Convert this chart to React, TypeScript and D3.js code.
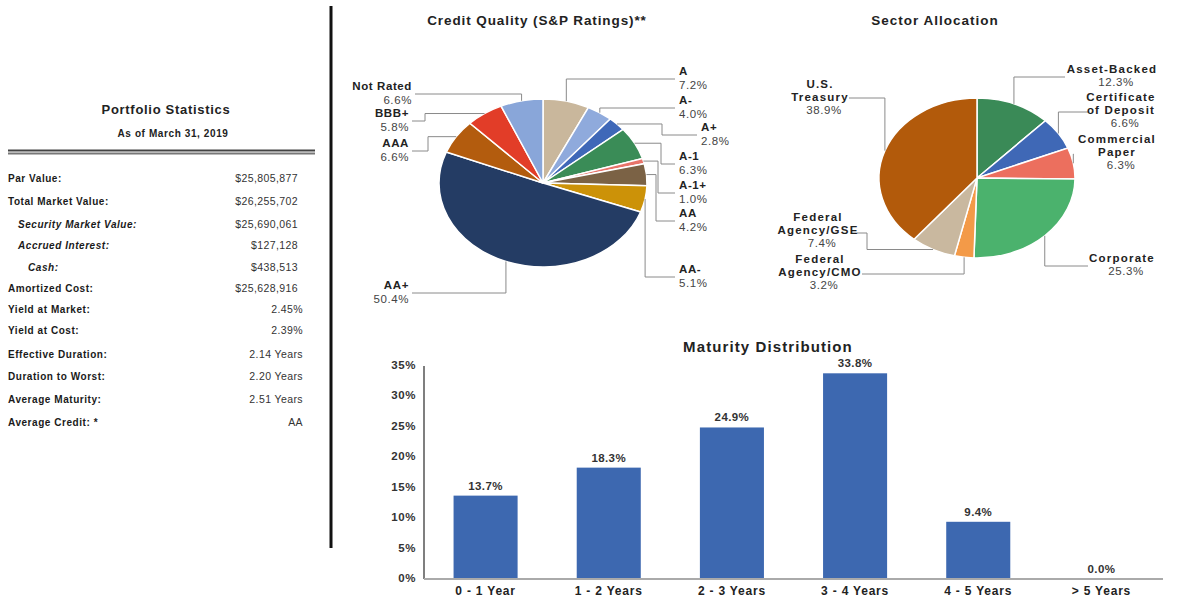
import React from "react";
import * as d3 from "d3";

// ---------- DATA ----------
const statLabels = [
  "Par Value:",
  "Total Market Value:",
  "Security Market Value:",
  "Accrued Interest:",
  "Cash:",
  "Amortized Cost:",
  "Yield at Market:",
  "Yield at Cost:",
  "Effective Duration:",
  "Duration to Worst:",
  "Average Maturity:",
  "Average Credit: *",
];
const statValues = [
  "$25,805,877",
  "$26,255,702",
  "$25,690,061",
  "$127,128",
  "$438,513",
  "$25,628,916",
  "2.45%",
  "2.39%",
  "2.14 Years",
  "2.20 Years",
  "2.51 Years",
  "AA",
];

const creditCategories = ["A", "A-", "A+", "A-1", "A-1+", "AA", "AA-", "AA+", "AAA", "BBB+", "Not Rated"];
const creditValues = [7.2, 4.0, 2.8, 6.3, 1.0, 4.2, 5.1, 50.4, 6.6, 5.8, 6.6];

const sectorCategories = [
  "Asset-Backed",
  "Certificate of Deposit",
  "Commercial Paper",
  "Corporate",
  "Federal Agency/CMO",
  "Federal Agency/GSE",
  "U.S. Treasury",
];
const sectorValues = [12.3, 6.6, 6.3, 25.3, 3.2, 7.4, 38.9];
const sectorLabelLines = [
  ["Asset-Backed"],
  ["Certificate", "of Deposit"],
  ["Commercial", "Paper"],
  ["Corporate"],
  ["Federal", "Agency/CMO"],
  ["Federal", "Agency/GSE"],
  ["U.S.", "Treasury"],
];

const maturityCategories = ["0 - 1 Year", "1 - 2 Years", "2 - 3 Years", "3 - 4 Years", "4 - 5 Years", "> 5 Years"];
const maturityValues = [13.7, 18.3, 24.9, 33.8, 9.4, 0.0];
const maturityTicks = [0, 5, 10, 15, 20, 25, 30, 35];

// ---------- STYLE / LAYOUT ----------
const FONT = "'Liberation Sans', Arial, Helvetica, sans-serif";

const creditColors = [
  "#c9b79c", "#8faadc", "#3f68b8", "#3a8c57", "#e8746a", "#7b6245",
  "#cc9208", "#243c64", "#b35c0e", "#e23d28", "#89a6d9",
];
const sectorColors = ["#3a8a57", "#3f68b6", "#ec6f5e", "#4bb26d", "#f39a48", "#c9b89f", "#b25a0b"];

type LabelLayout = { side: "l" | "r"; tx: number; ly: number; mode: "v" | "h"; elbow?: number };
const creditLayout: LabelLayout[] = [
  { side: "r", tx: 679, ly: 79, mode: "v" },
  { side: "r", tx: 679, ly: 108, mode: "v" },
  { side: "r", tx: 701, ly: 135, mode: "h", elbow: 662 },
  { side: "r", tx: 679, ly: 164, mode: "h", elbow: 661 },
  { side: "r", tx: 679, ly: 193, mode: "h", elbow: 658 },
  { side: "r", tx: 679, ly: 221, mode: "h", elbow: 656 },
  { side: "r", tx: 679, ly: 277, mode: "v" },
  { side: "l", tx: 409, ly: 293, mode: "v" },
  { side: "l", tx: 409, ly: 151, mode: "h", elbow: 428 },
  { side: "l", tx: 409, ly: 121, mode: "h", elbow: 425 },
  { side: "l", tx: 412, ly: 94, mode: "v" },
];

type SectorLayout = { cx: number; ty: number; sx: number; sy: number; mode: "v" | "h"; elbow?: number };
const sectorLayout: SectorLayout[] = [
  { cx: 1112, ty: 70, sx: 1065, sy: 77, mode: "v" },
  { cx: 1121, ty: 98, sx: 1089, sy: 112, mode: "v" },
  { cx: 1117, ty: 140, sx: 1073, sy: 154, mode: "v" },
  { cx: 1122, ty: 259, sx: 1088, sy: 266, mode: "v" },
  { cx: 820, ty: 260, sx: 862, sy: 274, mode: "v" },
  { cx: 818, ty: 218, sx: 857, sy: 233, mode: "h", elbow: 867 },
  { cx: 820, ty: 85, sx: 849, sy: 98, mode: "v" },
];

const pct = (v: number) => d3.format(".1f")(v) + "%";

function EllipsePie(props: {
  values: number[];
  colors: string[];
  cx: number;
  cy: number;
  rx: number;
  ry: number;
}) {
  const { values, colors, cx, cy, rx, ry } = props;
  const arcs = d3.pie<number>().sort(null).value((d) => d)(values);
  const arc = d3.arc<d3.PieArcDatum<number>>().innerRadius(0).outerRadius(rx);
  return (
    <g transform={`translate(${cx},${cy}) scale(1,${ry / rx})`}>
      {arcs.map((a, i) => (
        <path
          key={i}
          d={arc(a) || ""}
          fill={colors[i]}
          stroke="#ffffff"
          strokeWidth={1.5}
          vectorEffect="non-scaling-stroke"
        />
      ))}
    </g>
  );
}

function edgePoint(values: number[], i: number, cx: number, cy: number, rx: number, ry: number) {
  const arcs = d3.pie<number>().sort(null).value((d) => d)(values);
  const a = (arcs[i].startAngle + arcs[i].endAngle) / 2;
  return [cx + rx * Math.sin(a), cy - ry * Math.cos(a)];
}

export default function App() {
  const cP = { cx: 543, cy: 183, rx: 104, ry: 84 };
  const sP = { cx: 977, cy: 178, rx: 98, ry: 80 };

  const x = d3
    .scaleBand<string>()
    .domain(maturityCategories)
    .range([424, 1163])
    .paddingInner(0.48)
    .paddingOuter(0.24);
  const y = d3.scaleLinear().domain([0, 35]).range([579, 366]);

  const statY = [179, 202, 225, 246, 268, 289, 310, 331, 355, 377, 400, 423];
  const statX = [8, 8, 18, 18, 28, 8, 8, 8, 8, 8, 8, 8];
  const italic = [false, false, true, true, true, false, false, false, false, false, false, false];

  return (
    <svg
      width={1196}
      height={608}
      style={{ position: "absolute", left: 0, top: 0, background: "#fff" }}
      fontFamily={FONT}
    >
      <rect width={1196} height={608} fill="#fff" />

      {/* ---------- Left: Portfolio Statistics ---------- */}
      <text x={166} y={111} textAnchor="middle" dominantBaseline="middle" fontSize={13} fontWeight="bold" letterSpacing={0.7} fill="#222">
        Portfolio Statistics
      </text>
      <text x={173} y={134} textAnchor="middle" dominantBaseline="middle" fontSize={10} fontWeight="bold" letterSpacing={0.6} fill="#222">
        As of March 31, 2019
      </text>
      <line x1={8} x2={315} y1={150.5} y2={150.5} stroke="#444" strokeWidth={2} />
      <line x1={8} x2={315} y1={153.5} y2={153.5} stroke="#777" strokeWidth={2} />
      {statLabels.map((l, i) => (
        <g key={l}>
          <text
            x={statX[i]}
            y={statY[i]}
            dominantBaseline="middle"
            fontSize={10}
            fontWeight="bold"
            fontStyle={italic[i] ? "italic" : "normal"}
            letterSpacing={0.55}
            fill="#1a1a1a"
          >
            {l}
          </text>
          <text x={i < 6 ? 298 : 303} y={statY[i]} textAnchor="end" dominantBaseline="middle" fontSize={10.5} letterSpacing={0.4} fill="#333">
            {statValues[i]}
          </text>
        </g>
      ))}

      {/* Divider */}
      <line x1={331} x2={331} y1={6} y2={548} stroke="#111" strokeWidth={3} />

      {/* ---------- Credit Quality pie ---------- */}
      <text x={537} y={21} textAnchor="middle" dominantBaseline="middle" fontSize={13.5} fontWeight="bold" letterSpacing={0.9} fill="#222">
        Credit Quality (S&amp;P Ratings)**
      </text>
      <EllipsePie values={creditValues} colors={creditColors} {...cP} />
      {creditCategories.map((c, i) => {
        const L = creditLayout[i];
        const [ax, ay] = edgePoint(creditValues, i, cP.cx, cP.cy, cP.rx, cP.ry);
        const sx = L.side === "r" ? L.tx - 4 : L.tx + 3;
        const pts =
          L.mode === "v"
            ? [[sx, L.ly], [ax, L.ly], [ax, ay]]
            : [[sx, L.ly], [L.elbow!, L.ly], [L.elbow!, ay], [ax, ay]];
        const anchor = L.side === "r" ? "start" : "end";
        return (
          <g key={c}>
            <polyline points={pts.map((p) => p.join(",")).join(" ")} fill="none" stroke="#8a8a8a" strokeWidth={1} />
            <text x={L.tx} y={L.ly - 7} textAnchor={anchor} dominantBaseline="middle" fontSize={11.5} fontWeight="bold" letterSpacing={0.6} fill="#222">
              {c}
            </text>
            <text x={L.tx} y={L.ly + 6.5} textAnchor={anchor} dominantBaseline="middle" fontSize={11.5} letterSpacing={0.6} fill="#444">
              {pct(creditValues[i])}
            </text>
          </g>
        );
      })}

      {/* ---------- Sector Allocation pie ---------- */}
      <text x={935} y={21} textAnchor="middle" dominantBaseline="middle" fontSize={13.5} fontWeight="bold" letterSpacing={1} fill="#222">
        Sector Allocation
      </text>
      <EllipsePie values={sectorValues} colors={sectorColors} {...sP} />
      {sectorCategories.map((c, i) => {
        const L = sectorLayout[i];
        const [ax, ay] = edgePoint(sectorValues, i, sP.cx, sP.cy, sP.rx, sP.ry);
        const pts =
          L.mode === "v"
            ? [[L.sx, L.sy], [ax, L.sy], [ax, ay]]
            : [[L.sx, L.sy], [L.elbow!, L.sy], [L.elbow!, ay], [ax, ay]];
        const lines = sectorLabelLines[i];
        return (
          <g key={c}>
            <polyline points={pts.map((p) => p.join(",")).join(" ")} fill="none" stroke="#8a8a8a" strokeWidth={1} />
            {lines.map((t, j) => (
              <text
                key={j}
                x={L.cx}
                y={L.ty + j * 13}
                textAnchor="middle"
                dominantBaseline="middle"
                fontSize={11.5}
                fontWeight="bold"
                letterSpacing={1.2}
                fill="#222"
              >
                {t}
              </text>
            ))}
            <text
              x={L.cx + 4}
              y={L.ty + lines.length * 13}
              textAnchor="middle"
              dominantBaseline="middle"
              fontSize={11.5}
              letterSpacing={0.6}
              fill="#444"
            >
              {pct(sectorValues[i])}
            </text>
          </g>
        );
      })}

      {/* ---------- Maturity Distribution bars ---------- */}
      <text x={768} y={348} textAnchor="middle" dominantBaseline="middle" fontSize={15} fontWeight="bold" letterSpacing={1.1} fill="#222">
        Maturity Distribution
      </text>
      {maturityTicks.map((t) => (
        <text key={t} x={416} y={y(t)} textAnchor="end" dominantBaseline="middle" fontSize={11.5} fontWeight="bold" letterSpacing={0.6} fill="#333">
          {t}%
        </text>
      ))}
      {maturityCategories.map((c, i) => (
        <g key={c}>
          <rect
            x={x(c)!}
            y={y(maturityValues[i])}
            width={x.bandwidth()}
            height={y(0) - y(maturityValues[i])}
            fill="#3d68b0"
          />
          <text
            x={x(c)! + x.bandwidth() / 2}
            y={y(maturityValues[i]) - 9}
            textAnchor="middle"
            dominantBaseline="middle"
            fontSize={11.5}
            fontWeight="bold"
            letterSpacing={0.4}
            fill="#333"
          >
            {pct(maturityValues[i])}
          </text>
          <text
            x={x(c)! + x.bandwidth() / 2}
            y={592}
            textAnchor="middle"
            dominantBaseline="middle"
            fontSize={12}
            fontWeight="bold"
            letterSpacing={0.8}
            fill="#222"
          >
            {c}
          </text>
        </g>
      ))}
      <line x1={424} x2={424} y1={366} y2={579} stroke="#555" strokeWidth={1.5} />
      <line x1={424} x2={1163} y1={579} y2={579} stroke="#aaa" strokeWidth={2} />
    </svg>
  );
}
